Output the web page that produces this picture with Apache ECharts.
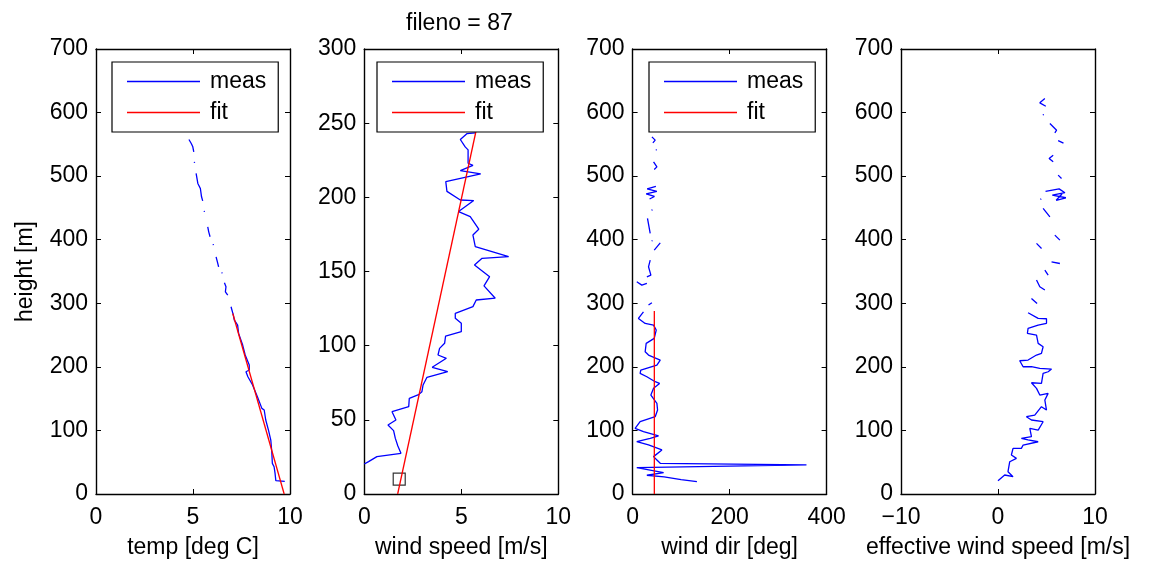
<!DOCTYPE html>
<html>
<head>
<meta charset="utf-8">
<script src="https://cdn.jsdelivr.net/npm/echarts@6/dist/echarts.min.js"></script>
<style>
html,body{margin:0;padding:0;background:#fff;}
#chart{width:1154px;height:564px;}
</style>
</head>
<body>
<div id="chart"></div>
<script>
// ---- data (x value, height [m]); null = gap in measurement ----
const titleText = 'fileno = 87';
const xNames = ['temp [deg C]', 'wind speed [m/s]', 'wind dir [deg]', 'effective wind speed [m/s]'];
const yName = 'height [m]';
const xMin = [0, 0, 0, -10];
const xMax = [10, 10, 400, 10];
const xStep = [5, 5, 200, 10];
const yMax = [700, 300, 700, 700];
const yStep = [100, 50, 100, 100];

const tempMeas = [[9.73,20],[9.27,20.9],[9.23,32.5],[9.18,42.9],[9.09,48.2],[9.06,66.5],[9.01,84.9],[8.89,100.6],[8.75,116.4],[8.67,132.1],[8.55,134.7],[8.32,153],[8.07,171.4],[7.83,184.4],[7.73,192.3],[7.9,195],[7.9,202.8],[7.69,218.6],[7.56,234.3],[7.35,252.7],[7.3,265.7],[7.13,273.6],[7.08,281.4],[6.96,294.5],null,[6.79,312.9],[6.67,318.1],[6.7,326],[6.62,332.3],null,[6.5,347],[6.49,348.5],null,[6.32,357.4],[6.27,363.7],[6.19,373.1],null,[6.05,391.5],[6.04,393],null,[5.88,404.6],[5.81,412.4],[5.76,420.3],null,[5.59,443.9],[5.58,445.4],null,[5.5,461.2],[5.44,467.5],[5.38,480.6],[5.25,488.5],[5.16,504.2],null,[5.08,520.9],[5.07,522.4],null,[5.04,538.2],[4.99,546.1],[4.91,551.4],[4.79,557.7]];
const tempFit = [[9.7,0],[7.05,284]];

const speedMeas = [[0,20.2],[0.22,21.8],[0.65,25.2],[1.89,27.4],[1.73,32.4],[1.6,37.5],[1.51,42.7],[1.22,46.5],[1.63,49.9],[1.43,55.5],[2.29,58.9],[2.32,64.5],[2.8,67],[2.97,69],[3.03,73.5],[3.23,78.7],[4.3,82.5],[3.5,85.4],[4.23,91.5],[3.8,93.7],[3.88,98.2],[4.14,101.6],[4.19,106.5],[5.0,109.4],[5.0,115.1],[4.69,118.5],[4.69,121.8],[5.6,126.3],[5.77,130.8],[6.75,132],[6.17,140.3],[6.46,146.5],[5.68,154.4],[6.07,158.9],[7.44,160],[5.72,166.8],[5.6,174.6],[5.9,178.5],[5.46,187],[4.86,190.4],[5.64,197.8],[4.95,198.2],[4.26,204],[4.2,210.6],[6.0,215.8],[4.95,218],[5.6,221.5],[5.35,223],[5.35,232],[5.2,234],[4.95,239],[5.3,243],[5.73,243.5]];
const speedFit = [[1.72,0],[5.77,245.4]];
const speedMarker = [[1.8,10]];

const dirMeas = [[132.6,19.5],[100,22.5],[65,27],[29.4,29.5],[63.9,33.6],[8.6,41.5],[358.5,45.7],[57,48.3],[50.1,53.6],[43.2,58.8],[60.4,69.3],[32.8,77.2],[8.6,82.4],[36.3,87.6],[53.5,91.3],[22.4,98.1],[5.2,103.3],[15.5,113.8],[46.6,121.6],[51.5,132.1],[50.1,142.6],[37.7,155.7],[43.2,166.2],[55.6,174],[46.6,176.6],[29.4,184.5],[15.5,189.7],[16.9,195],[50.1,202.9],[57,210.7],[32.8,218.6],[25.9,223.8],[28,236.9],[44.6,244.8],[48.7,257.9],[43.2,265.7],[25.9,268.3],[12,276.2],[22.4,286.6],null,[32.8,297.2],[39.8,300.8],null,[29.4,331.3],[19,328.6],[8.6,333.8],null,[29.4,341.7],[37.7,344.3],[32.8,357.4],[36.3,367.9],null,[44.6,383.6],[57,395.1],null,[39.8,397.5],[40.5,399],null,[36.3,409.9],[30.7,433.5],null,[39.8,446],[40.3,447.5],null,[35,464],[45,468],[28,472],[50,476],[30,480],[48,484],null,[44.6,510.5],[50.1,514.6],[43.2,522.5],null,[48.7,540.5],[49.2,542],null,[41.8,552.4],[46.6,556.6],[39.8,561.8]];
const dirFit = [[44.8,0],[44.8,288]];

const effMeas = [[0,20.9],[0.69,29.9],[1.55,27.2],[1.03,35.1],[1.21,50.8],[1.9,56.1],[1.38,61.3],[1.55,71.8],[2.41,71.8],[2.59,77],[4.14,82.2],[3.1,85],[2.41,87.6],[3.45,90.1],[3.28,103.3],[4.14,100.6],[4.65,113.7],[3.45,116.4],[2.93,121.6],[3.79,124.2],[4.48,137.3],[5.0,132.1],[4.83,147.8],[5.17,158.3],[4.31,155.7],[3.97,166.2],[3.45,175],[4.48,174],[4.65,189.8],[5.17,192.3],[5.52,196.5],[4.31,197.6],[3.45,200.2],[2.59,200.2],[2.24,209.6],[3.1,210.7],[3.97,218.6],[4.48,221.2],[4.65,231.6],[4.14,236.9],[3.97,250],[3.03,252.7],[3.1,260.5],[4.14,265.7],[5.0,268.4],[5.0,275.7],[4.14,276.2],[3.1,285.1],null,[3.45,307.7],[4.03,299.8],null,[3.97,336.5],[4.31,326],[4.83,320.8],null,[4.83,352.2],[5.17,344.3],null,[5.52,365.3],[6.38,362.6],null,[3.97,394.2],[4.49,386.3],null,[5.86,407.2],[6.38,399.4],null,[4.65,449.2],[5.35,436],null,[4.38,463.3],[4.45,464.5],null,[4.9,476],[6.3,480],[6.9,474],[5.6,470],[7.0,466],[6.0,462],[6.6,472],null,[6.2,501.6],[6.55,496.4],null,[5.69,533],[5.27,527.8],[5.69,522.5],null,[6.2,556],[6.75,552],null,[5.35,582.8],[6.04,572.3],[5.86,568.1],null,[4.65,595.9],[4.7,597.5],null,[4.83,622],[4.31,615.3],[4.93,610]];

// ---- layout ----
const FONT = 'Liberation Sans';
const FS = 23;
const gridLeft = [96, 364.3, 632.6, 901];
const gridW = 194;
const gridTop = 49;
const gridH = 445;
const legendLeft = [112, 377, 649];

function gaps(arr){ return arr.map(p => p === null ? ['-','-'] : p); }

const grids = gridLeft.map(l => ({left:l, top:gridTop, width:gridW, height:gridH, containLabel:false}));
const axisLine = {show:true, onZero:false, lineStyle:{color:'#000', width:1.4}};
const axisTick = {show:true, inside:true, length:5, lineStyle:{color:'#000', width:1}};
const labelStyle = {color:'#000', fontFamily:FONT, fontSize:FS};

const xAxes = [], yAxes = [];
for (let i = 0; i < 4; i++) {
  xAxes.push({
    type:'value', gridIndex:i, position:'bottom', min:xMin[i], max:xMax[i], interval:xStep[i],
    axisLine, axisTick, splitLine:{show:false},
    axisLabel:Object.assign({margin:12, formatter: v => (v < 0 ? '\u2212' + Math.abs(v) : String(v))}, labelStyle),
    name:xNames[i], nameLocation:'middle', nameGap:42, nameTextStyle:labelStyle
  });
  yAxes.push({
    type:'value', gridIndex:i, position:'left', min:0, max:yMax[i], interval:yStep[i],
    axisLine, axisTick, splitLine:{show:false},
    axisLabel:Object.assign({margin:8, padding:[4,0,0,0]}, labelStyle),
    name: i === 0 ? yName : '', nameLocation:'middle', nameGap:59, nameTextStyle:labelStyle
  });
}
for (let i = 0; i < 4; i++) {
  xAxes.push({
    type:'value', gridIndex:i, position:'top', min:xMin[i], max:xMax[i], interval:xStep[i],
    axisLine, axisTick, splitLine:{show:false}, axisLabel:{show:false}
  });
  yAxes.push({
    type:'value', gridIndex:i, position:'right', min:0, max:yMax[i], interval:yStep[i],
    axisLine, axisTick, splitLine:{show:false}, axisLabel:{show:false}
  });
}

function line(name, data, idx, color){
  return {
    name, type:'line', xAxisIndex:idx, yAxisIndex:idx, data:gaps(data),
    symbol:'none', showSymbol:false, connectNulls:false, clip:true,
    lineStyle:{color, width:1.3}, itemStyle:{color}, animation:false, silent:true
  };
}

const series = [
  line('meas', tempMeas, 0, '#0000ff'),
  line('fit', tempFit, 0, '#ff0000'),
  line('meas', speedMeas, 1, '#0000ff'),
  line('fit', speedFit, 1, '#ff0000'),
  {name:'marker', type:'scatter', xAxisIndex:1, yAxisIndex:1, data:speedMarker, symbol:'rect', symbolSize:12,
   itemStyle:{color:'rgba(0,0,0,0)', borderColor:'#000', borderWidth:1.2}, animation:false, silent:true},
  line('meas', dirMeas, 2, '#0000ff'),
  line('fit', dirFit, 2, '#ff0000'),
  line('meas', effMeas, 3, '#0000ff')
];

const legends = legendLeft.map(l => ({
  left:l, top:62, orient:'vertical', data:['meas','fit'],
  icon:'rect', itemWidth:73, itemHeight:1.5, itemGap:8,
  padding:[8,12,8,15], borderColor:'#000', borderWidth:1.2, backgroundColor:'#fff',
  selectedMode:false,
  textStyle:{color:'#000', fontFamily:FONT, fontSize:FS, lineHeight:23, padding:[0,0,0,5]}
}));

const chart = echarts.init(document.getElementById('chart'), null, {renderer:'canvas'});
chart.setOption({
  backgroundColor:'#fff',
  animation:false,
  grid:grids,
  xAxis:xAxes,
  yAxis:yAxes,
  legend:legends,
  graphic:[{type:'text', left:461 - 55, top:12, style:{text:titleText, fill:'#000', font:FS + 'px "' + FONT + '"'}}],
  series
});
</script>
</body>
</html>
